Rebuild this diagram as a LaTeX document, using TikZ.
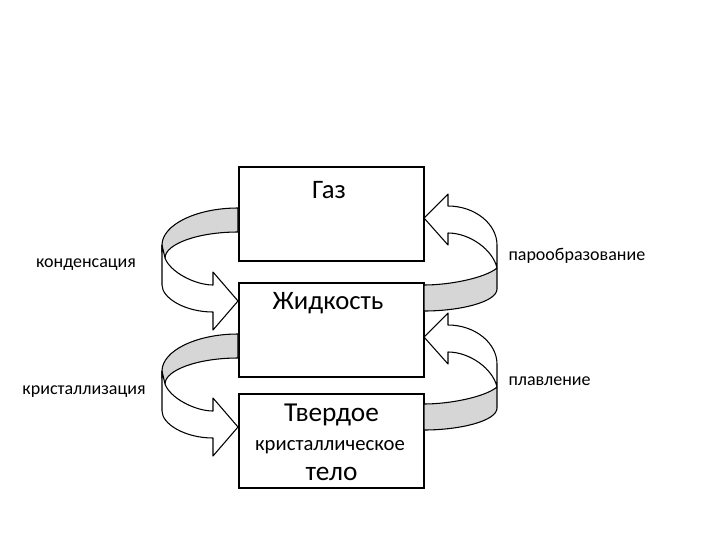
\documentclass[tikz,border=0pt]{standalone}
\usepackage{fontspec}
\setmainfont{Carlito}
\usetikzlibrary{positioning}
\definecolor{cband}{HTML}{D6D6D6}
\tikzset{
  every picture/.style={line width=0.8pt},
  box/.style={draw, fill=white, minimum width=138.75pt, minimum height=70.5pt, inner sep=0pt},
  big/.style={font=\fontsize{20}{22}\selectfont, inner sep=0pt},
  huge/.style={font=\fontsize{20.5}{22}\selectfont, inner sep=0pt},
  mid/.style={font=\fontsize{15.5}{18}\selectfont, inner sep=0pt},
  lbl/.style={font=\fontsize{13.5}{15}\selectfont, inner sep=0pt},
  band/.style={draw, fill=cband, line join=round},
  ribbon/.style={draw, fill=white, line join=round},
}
\begin{document}
\begin{tikzpicture}[x=0.75pt, y=-0.75pt]
  \useasboundingbox (0,0) rectangle (720,540);
  % three states
  \node[box] (gas)    at (331.5,214) {};
  \node[box] (liquid) at (331.5,330) {};
  \node[box] (solid)  at (331.5,441) {};
  \node[big]  (gastxt) at (329,190) {Газ};
  \node[big]  (liqtxt) at (328,303) {Жидкость};
  \node[huge] (soltxt) at (331.5,415) {Твердое};
  \node[mid]  (soltxtb) at (330,447) {кристаллическое};
  \node[huge] (soltxtc) at (331.5,474) {тело};
  % left loops
  \foreach \dy in {0,126} {
    \begin{scope}[shift={(0,\dy)}]
      \filldraw[band] (238,208) .. controls (196,208) and (162,225) .. (162,245)
        -- (162,252) -- (165,258) .. controls (165,244) and (198,232) .. (238,232) -- cycle;
      \filldraw[ribbon] (162,245) -- (162,285) .. controls (162,298) and (185,312) .. (213,312)
        -- (213,330) -- (238,301) -- (213,272) -- (213,285)
        .. controls (195,285) and (170,272) .. (165,258) -- cycle;
    \end{scope}
  }
  % right loops
  \foreach \dy in {0,119} {
    \begin{scope}[shift={(0,\dy)}]
      \filldraw[band] (424,285) .. controls (450,285) and (485,278) .. (497,268)
        -- (497,289) .. controls (497,302) and (460,311) .. (424,311) -- cycle;
      \filldraw[ribbon] (448,206) .. controls (475,206) and (497,224) .. (497,245)
        -- (497,268) .. controls (493,250) and (470,233) .. (448,233)
        -- (448,245) -- (424,218) -- (448,194) -- cycle;
    \end{scope}
  }
  % phase changes
  \node[lbl] (cond)  at (86,265)  {конденсация};
  \node[lbl] (cryst) at (84,392)  {кристаллизация};
  \node[lbl, anchor=west] (vap)  at (508,256) {парообразование};
  \node[lbl, anchor=west] (melt) at (508,381) {плавление};
\end{tikzpicture}
\end{document}
